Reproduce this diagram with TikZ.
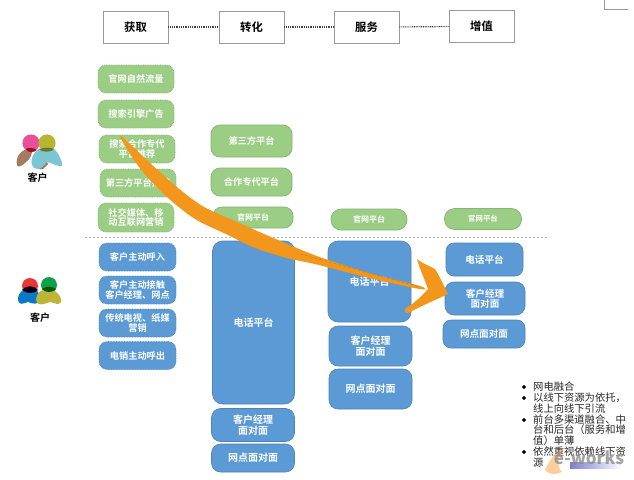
\documentclass[tikz,border=0pt]{standalone}
\usepackage{fontspec}
\setmainfont{Noto Sans CJK SC}
\newfontfamily\cjkb{Noto Sans CJK SC}[BoldFont={Noto Sans CJK SC Bold}]
\definecolor{gfill}{HTML}{9BCD85}
\definecolor{gline}{HTML}{84B571}
\definecolor{bfill}{HTML}{5B9AD4}
\definecolor{bline}{HTML}{5083B5}
\definecolor{orangeA}{HTML}{F2961C}
\definecolor{orangeB}{HTML}{B5751F}
\definecolor{ipink}{HTML}{E8509B}
\definecolor{iolive}{HTML}{B8B62E}
\definecolor{iteal}{HTML}{7CC5D2}
\definecolor{ibrown}{HTML}{A37B63}
\definecolor{ired}{HTML}{EE3535}
\definecolor{igreen}{HTML}{0FA04F}
\definecolor{iblue}{HTML}{0A78C8}
\definecolor{iolivb}{HTML}{BDB535}
\tikzset{
  x=1pt,y=-1pt,
  head/.style={draw=black!40,line width=0.9pt,fill=white,minimum width=65pt,minimum height=32pt,inner sep=0pt,font=\fontsize{11.3}{12}\selectfont\bfseries},
  pill/.style={rounded corners=8pt,inner sep=0pt,align=center,text=white,font=\fontsize{9.2}{9.8}\selectfont\bfseries},
  gdot/.style={pill,fill=gfill,draw=gline,densely dotted,line width=0.7pt},
  gsolid/.style={pill,fill=gfill,draw=gline,line width=0.7pt},
  bdot/.style={pill,fill=bfill,draw=bline,densely dotted,line width=0.6pt},
  bsolid/.style={pill,fill=bfill,draw=bline,line width=0.6pt,font=\fontsize{10}{10.4}\selectfont\bfseries},
  linker/.style={draw=black!75,line width=1.1pt,dash pattern=on 1pt off 0.8pt},
  sep/.style={draw=black!30,line width=0.6pt,dash pattern=on 2pt off 2pt},
  who/.style={inner sep=0pt,font=\fontsize{10}{11}\selectfont\bfseries},
  note/.style={inner sep=0pt,anchor=west,text=black!85,font=\fontsize{10.3}{11}\selectfont},
}
\begin{document}
\begin{tikzpicture}
\useasboundingbox (0,0) rectangle (634,479);
\fill[white] (0,0) rectangle (634,479);
\cjkb
% corner fragment
\draw[black!40,line width=0.6pt] (604.5,0) -- (604.5,9.5) -- (628,9.5);
% headers
\node[head] (h1) at (135.5,27) {获取};
\node[head] (h2) at (251.5,27) {转化};
\node[head] (h3) at (366.5,27) {服务};
\node[head] (h4) at (481.5,26.5) {增值};
\draw[linker] (h1) -- (h2);
\draw[linker] (h2) -- (h3);
\draw[linker] (h3) -- (h4);
% separator
\coordinate (sl) at (85,237);
\coordinate (sr) at (549,237);
\draw[sep] (sl) -- (sr);
% green column 1
\node[gdot,minimum width=76pt,minimum height=28pt] (ga1) at (136,79) {官网自然流量};
\node[gdot,minimum width=76pt,minimum height=28pt] (ga2) at (136,114) {搜索引擎广告};
\node[gdot,minimum width=76pt,minimum height=28pt] (ga3) at (137,149) {搜索合作专代\\平台推荐};
\node[gdot,minimum width=76pt,minimum height=28pt] (ga4) at (138,183) {第三方平台推荐};
\node[gdot,minimum width=76pt,minimum height=29pt] (ga5) at (136,217.5) {社交媒体、移\\动互联网营销};
% green others
\node[gsolid,rounded corners=9pt,minimum width=81pt,minimum height=32pt] (gb1) at (251.5,141) {第三方平台};
\node[gsolid,rounded corners=9pt,minimum width=81pt,minimum height=28pt] (gb2) at (251.5,182) {合作专代平台};
\node[gsolid,rounded corners=9pt,minimum width=80pt,minimum height=21pt,font=\fontsize{8}{9}\selectfont\bfseries] (gb3) at (253,217.5) {官网平台};
\node[gsolid,rounded corners=10pt,minimum width=76pt,minimum height=21pt,font=\fontsize{8}{9}\selectfont\bfseries] (gc1) at (369,219.5) {官网平台};
\node[gsolid,rounded corners=10pt,minimum width=77pt,minimum height=21pt,font=\fontsize{7.4}{9}\selectfont\bfseries] (gd1) at (483,219) {官网平台};
% blue column 1
\node[bdot,minimum width=77pt,minimum height=28pt] (ba1) at (137.5,257) {客户主动呼入};
\node[bdot,minimum width=77pt,minimum height=28pt] (ba2) at (137.5,290) {客户主动接触\\客户经理、网点};
\node[bdot,minimum width=77pt,minimum height=28pt] (ba3) at (137.5,323) {传统电视、纸媒\\营销};
\node[bdot,minimum width=77pt,minimum height=28pt] (ba4) at (137.5,355.5) {电销主动呼出};
% blue column 2
\node[bsolid,rounded corners=10pt,minimum width=82pt,minimum height=163pt] (bb1) at (253.5,322.5) {电话平台};
\node[bsolid,rounded corners=9pt,minimum width=83pt,minimum height=33pt] (bb2) at (253,425) {客户经理\\面对面};
\node[bsolid,rounded corners=9pt,minimum width=83pt,minimum height=28pt] (bb3) at (253,458) {网点面对面};
% blue column 3
\node[bsolid,rounded corners=10pt,minimum width=83pt,minimum height=81pt] (bc1) at (369.5,281.5) {电话平台};
\node[bsolid,rounded corners=9pt,minimum width=83pt,minimum height=40pt] (bc2) at (370.5,346) {客户经理\\面对面};
\node[bsolid,rounded corners=9pt,minimum width=83pt,minimum height=40pt] (bc3) at (370.5,389) {网点面对面};
% blue column 4
\node[bsolid,rounded corners=8pt,minimum width=77pt,minimum height=33pt,font=\fontsize{9.6}{10}\selectfont\bfseries] (bd1) at (484.5,259.5) {电话平台};
\node[bsolid,rounded corners=9pt,minimum width=80pt,minimum height=33pt,font=\fontsize{9.6}{10}\selectfont\bfseries] (bd2) at (485,298.5) {客户经理\\面对面};
\node[bsolid,rounded corners=8pt,minimum width=82pt,minimum height=28pt,font=\fontsize{9.6}{10}\selectfont\bfseries] (bd3) at (484,334) {网点面对面};
% upper customer icon
\fill[ibrown] (17,165) .. controls (15,158) and (21,148) .. (31,149) .. controls (34,152) and (30,160) .. (25,163) .. controls (22,166) and (18,168) .. (17,165);
\fill[ibrown] (39,169) .. controls (42,160) and (46,158) .. (48,164) -- (43,169) -- cycle;
\fill[ipink] (31,143) circle (8.6);
\fill[iolive] (47,143) circle (8.6);
\fill[red!55!black,opacity=.8] (25.5,149) .. controls (29,147) and (34,148) .. (37,150) .. controls (34,153) and (28,153) .. (25.5,149);
\fill[iteal] (32,165) .. controls (30,158) and (34,152) .. (39,149) .. controls (46,146) and (54,147) .. (57,152) .. controls (60,157) and (63,163) .. (62,166) .. controls (58,167) and (52,163) .. (47,162) .. controls (45,164) and (43,168) .. (38,169) .. controls (35,169) and (33,168) .. (32,165);
\fill[olive!80!green!75!black] (39,149.5) .. controls (43,147) and (50,147) .. (54,149) .. controls (52,152) and (43,153) .. (39,149.5);
\node[who] (c1) at (37.5,178) {客户};
% lower customer icon
\fill[ired] (30,286) circle (8);
\fill[igreen] (49,285) circle (8);
\fill[iblue] (18,298) .. controls (18,293) and (24,288) .. (30,288) .. controls (36,288) and (41,293) .. (40,300) .. controls (38,305) and (33,304) .. (28,302) .. controls (24,303) and (18,307) .. (18,298);
\fill[black!90!blue] (22,290) .. controls (26,285) and (34,285) .. (38,290) .. controls (35,294) and (26,294) .. (22,290);
\fill[iolivb] (36,299) .. controls (37,292) and (42,289) .. (48,289) .. controls (54,289) and (60,294) .. (61,299) .. controls (62,304) and (58,305) .. (54,303) .. controls (50,301) and (47,303) .. (44,304) .. controls (40,305) and (36,304) .. (36,299);
\fill[green!35!black] (42,289) .. controls (46,286) and (52,286) .. (56,289) .. controls (53,293) and (45,293) .. (42,289);
\node[who] (c2) at (40,317.5) {客户};
% notes
\foreach \yy/\tt in {387/网电融合,398/以线下资源为依托，,409/线上向线下引流,420/前台多渠道融合、中,430/台和后台（服务和增,441/值）单薄,452/依然重视依赖线下资,463/源}{
  \node[note] at (533,\yy) {\tt};
}
\foreach \yy in {387,398,420,452}{
  \fill[black] (524,\yy-2.2) -- (526.2,\yy) -- (524,\yy+2.2) -- (521.8,\yy) -- cycle;
}
% watermark
\fill[orange!70!white,opacity=.55] (545,470) .. controls (549,460) and (556,452) .. (564,449) .. controls (558,456) and (556,466) .. (562,472) .. controls (556,475) and (549,475) .. (545,470);
\shade[left color=blue!45!gray!70!white,right color=white] (570,462) rectangle (622,468);
\node[inner sep=0pt,text=black!45,opacity=.8,font=\fontsize{17}{17}\selectfont\bfseries\itshape] (wm) at (589,458) {e-works};
% orange freehand arrow
\fill[orangeA] plot[smooth cycle,tension=.5] coordinates {(121,136) (150,163) (178,188) (204,207) (237,222) (264,234) (292,246) (321,257.5) (371,273.5) (420,286) (420,289) (369,278) (319,265) (287,258) (255,248) (228,235) (195,219) (167,197) (143,172) (127,149)};
\fill[orangeA] (417,259) .. controls (421,263) and (430,266) .. (435,269) .. controls (440,277) and (444,286) .. (448,294) .. controls (440,298) and (425,304) .. (408,313) .. controls (404,313) and (404,310) .. (406,308) .. controls (413,304) and (420,298) .. (428,289) .. controls (425,280) and (420,270) .. (417,259) -- cycle;
\draw[orangeB,line width=0.5pt,densely dashed,opacity=.7] (300,254) -- (420,287);
\end{tikzpicture}
\end{document}
